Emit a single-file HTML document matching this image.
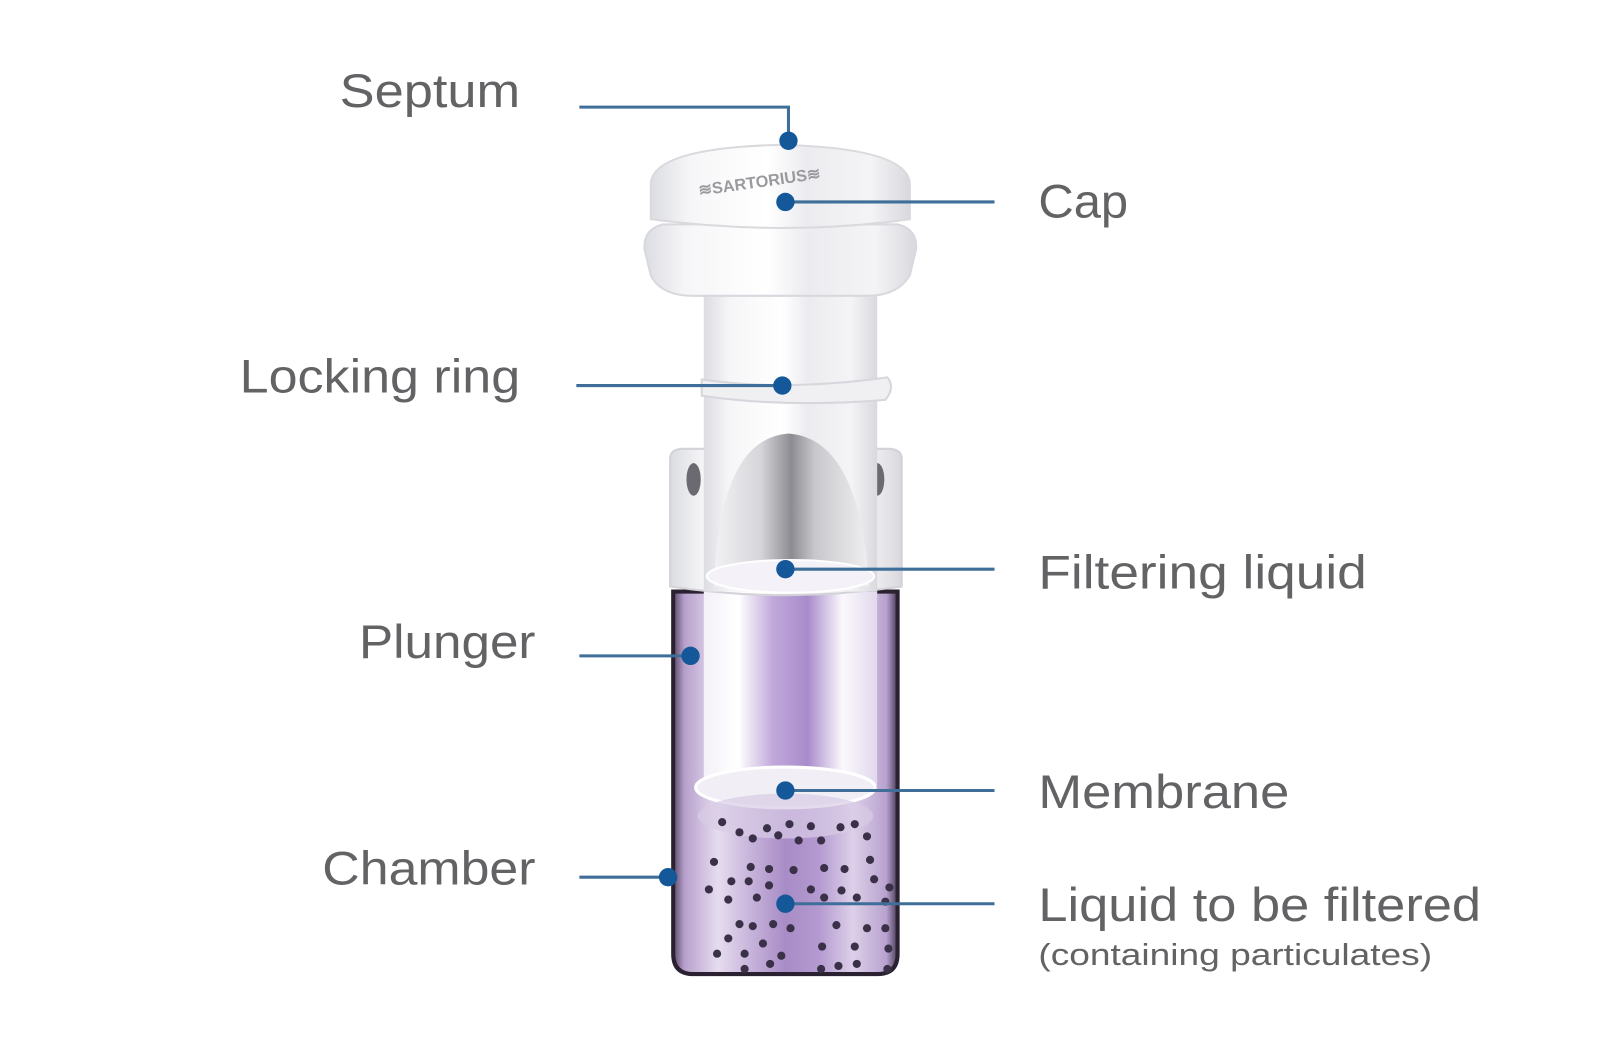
<!DOCTYPE html>
<html><head><style>html,body{margin:0;padding:0;background:#fff;}svg{display:block}</style></head>
<body>
<svg width="1600" height="1060" viewBox="0 0 1600 1060" xmlns="http://www.w3.org/2000/svg">
<defs>
<linearGradient id="wh" x1="0" x2="1" y1="0" y2="0">
<stop offset="0" stop-color="#dcdde2"/><stop offset="0.15" stop-color="#f6f6f8"/><stop offset="0.45" stop-color="#ffffff"/><stop offset="0.6" stop-color="#ececf0"/><stop offset="0.85" stop-color="#f4f4f6"/><stop offset="1" stop-color="#d8d8de"/>
</linearGradient>
<linearGradient id="silver" x1="0" x2="1">
<stop offset="0" stop-color="#f2f2f4"/><stop offset="0.3" stop-color="#d6d6da"/><stop offset="0.5" stop-color="#8c8c92"/><stop offset="0.65" stop-color="#c8c8cc"/><stop offset="1" stop-color="#f0f0f2"/>
</linearGradient>
<linearGradient id="purp" x1="0" x2="1">
<stop offset="0" stop-color="#5a4a6a"/><stop offset="0.05" stop-color="#b7a0cc"/><stop offset="0.2" stop-color="#e6dcef"/><stop offset="0.35" stop-color="#c6b2da"/><stop offset="0.5" stop-color="#a88cc6"/><stop offset="0.65" stop-color="#b49ad0"/><stop offset="0.8" stop-color="#ddd0e9"/><stop offset="0.95" stop-color="#b8a2cf"/><stop offset="1" stop-color="#4a3c58"/>
</linearGradient>
<linearGradient id="inner" x1="0" x2="1">
<stop offset="0" stop-color="#f4f0f8"/><stop offset="0.2" stop-color="#ffffff"/><stop offset="0.4" stop-color="#c0a8da"/><stop offset="0.6" stop-color="#a98ccb"/><stop offset="0.8" stop-color="#fbf9fd"/><stop offset="1" stop-color="#e2d8ec"/>
</linearGradient>
</defs>
<g transform="scale(1.02)">
<!-- chamber -->
<path d="M660 580 L880 580 L880 935 Q880 955 860 955 L680 955 Q660 955 660 935 Z" fill="url(#purp)" stroke="#2a2230" stroke-width="4"/>
<!-- plunger inner -->
<rect x="690" y="580" width="170" height="190" fill="url(#inner)"/>
<ellipse cx="770" cy="772" rx="88" ry="20" fill="#f2eef6" stroke="#ffffff" stroke-width="3"/>
<ellipse cx="770" cy="800" rx="86" ry="22" fill="#d8cce6" opacity="0.7"/>
<!-- particles -->
<g fill="#3a3048">
<circle cx="708" cy="806" r="4"/><circle cx="725" cy="816" r="4"/><circle cx="738" cy="822" r="4"/><circle cx="752" cy="812" r="4"/><circle cx="763" cy="819" r="4"/><circle cx="774" cy="808" r="4"/><circle cx="783" cy="824" r="4"/><circle cx="795" cy="810" r="4"/><circle cx="805" cy="824" r="4"/><circle cx="824" cy="811" r="4"/><circle cx="838" cy="808" r="4"/><circle cx="850" cy="820" r="4"/>
<circle cx="700" cy="845" r="4"/><circle cx="736" cy="850" r="4"/><circle cx="754" cy="852" r="4"/><circle cx="778" cy="853" r="4"/><circle cx="808" cy="851" r="4"/><circle cx="828" cy="852" r="4"/><circle cx="853" cy="843" r="4"/>
<circle cx="717" cy="864" r="4"/><circle cx="734" cy="864" r="4"/><circle cx="754" cy="868" r="4"/><circle cx="795" cy="872" r="4"/><circle cx="825" cy="873" r="4"/><circle cx="857" cy="862" r="4"/><circle cx="872" cy="870" r="4"/>
<circle cx="695" cy="872" r="4"/><circle cx="714" cy="882" r="4"/><circle cx="742" cy="880" r="4"/><circle cx="808" cy="880" r="4"/><circle cx="840" cy="880" r="4"/><circle cx="868" cy="884" r="4"/>
<circle cx="725" cy="906" r="4"/><circle cx="738" cy="908" r="4"/><circle cx="758" cy="906" r="4"/><circle cx="775" cy="910" r="4"/><circle cx="820" cy="907" r="4"/><circle cx="850" cy="910" r="4"/><circle cx="868" cy="910" r="4"/>
<circle cx="714" cy="920" r="4"/><circle cx="748" cy="925" r="4"/><circle cx="703" cy="935" r="4"/><circle cx="730" cy="935" r="4"/><circle cx="766" cy="937" r="4"/><circle cx="806" cy="928" r="4"/><circle cx="838" cy="928" r="4"/><circle cx="871" cy="930" r="4"/>
<circle cx="730" cy="950" r="4"/><circle cx="755" cy="945" r="4"/><circle cx="805" cy="950" r="4"/><circle cx="822" cy="947" r="4"/><circle cx="840" cy="945" r="4"/><circle cx="870" cy="950" r="4"/>
</g>
<!-- collar -->
<path d="M657 450 Q657 440 670 440 L870 440 Q884 440 884 450 L884 575 Q770 592 657 575 Z" fill="url(#wh)" stroke="#d2d2d8" stroke-width="2"/>
<ellipse cx="680" cy="470" rx="7" ry="16" fill="#6a6a70"/>
<ellipse cx="860" cy="470" rx="7" ry="16" fill="#6a6a70"/>
<!-- stem -->
<rect x="690" y="280" width="170" height="300" fill="url(#wh)"/>
<path d="M688 372 Q770 384 870 370 Q878 380 868 392 Q770 400 688 388 Z" fill="#f0f0f3" stroke="#d6d6dc" stroke-width="2"/>
<!-- silver dome -->
<path d="M700 575 Q705 430 773 425 Q843 430 852 575 Z" fill="url(#silver)"/>
<ellipse cx="775" cy="565" rx="82" ry="16" fill="#f4f1f8" stroke="#ffffff" stroke-width="2"/>
<!-- cap -->
<path d="M632 245 Q630 225 650 220 L880 220 Q900 225 898 245 L892 270 Q880 290 850 290 L680 290 Q648 290 638 270 Z" fill="url(#wh)" stroke="#d8d8de" stroke-width="2"/>
<path d="M638 180 Q640 145 765 142 Q890 145 892 180 L892 215 Q770 232 638 215 Z" fill="url(#wh)" stroke="#dadade" stroke-width="2"/>
<text x="684" y="180" font-family="Liberation Sans, sans-serif" font-size="16" fill="#9a9a9e" font-weight="bold" transform="rotate(-8 770 175)">≋SARTORIUS≋</text>

<!-- connectors -->
<g stroke="#3f6f98" stroke-width="3" fill="none">
<polyline points="568,105 773,105 773,138"/>
<line x1="770" y1="198" x2="975" y2="198"/>
<line x1="565" y1="378" x2="767" y2="378"/>
<line x1="770" y1="558" x2="975" y2="558"/>
<line x1="568" y1="643" x2="677" y2="643"/>
<line x1="770" y1="775" x2="975" y2="775"/>
<line x1="568" y1="860" x2="655" y2="860"/>
<line x1="770" y1="886" x2="975" y2="886"/>
</g>
<g fill="#15589a">
<circle cx="773" cy="138" r="9"/><circle cx="770" cy="198" r="9"/><circle cx="767" cy="378" r="9"/><circle cx="770" cy="558" r="9"/><circle cx="677" cy="643" r="9"/><circle cx="770" cy="775" r="9"/><circle cx="655" cy="860" r="9"/><circle cx="770" cy="886" r="9"/>
</g>

<!-- labels -->
<g font-family="Liberation Sans, sans-serif" font-size="46" fill="#636366">
<text x="333" y="105" textLength="177" lengthAdjust="spacingAndGlyphs">Septum</text>
<text x="1018" y="213" textLength="88" lengthAdjust="spacingAndGlyphs">Cap</text>
<text x="235" y="385" textLength="275" lengthAdjust="spacingAndGlyphs">Locking ring</text>
<text x="1018" y="577" textLength="322" lengthAdjust="spacingAndGlyphs">Filtering liquid</text>
<text x="352" y="645" textLength="173" lengthAdjust="spacingAndGlyphs">Plunger</text>
<text x="1018" y="792" textLength="246" lengthAdjust="spacingAndGlyphs">Membrane</text>
<text x="316" y="867" textLength="209" lengthAdjust="spacingAndGlyphs">Chamber</text>
<text x="1018" y="903" textLength="434" lengthAdjust="spacingAndGlyphs">Liquid to be filtered</text>
<text x="1018" y="946" font-size="30" textLength="386" lengthAdjust="spacingAndGlyphs">(containing particulates)</text>
</g>
</g>
</svg>
</body></html>
